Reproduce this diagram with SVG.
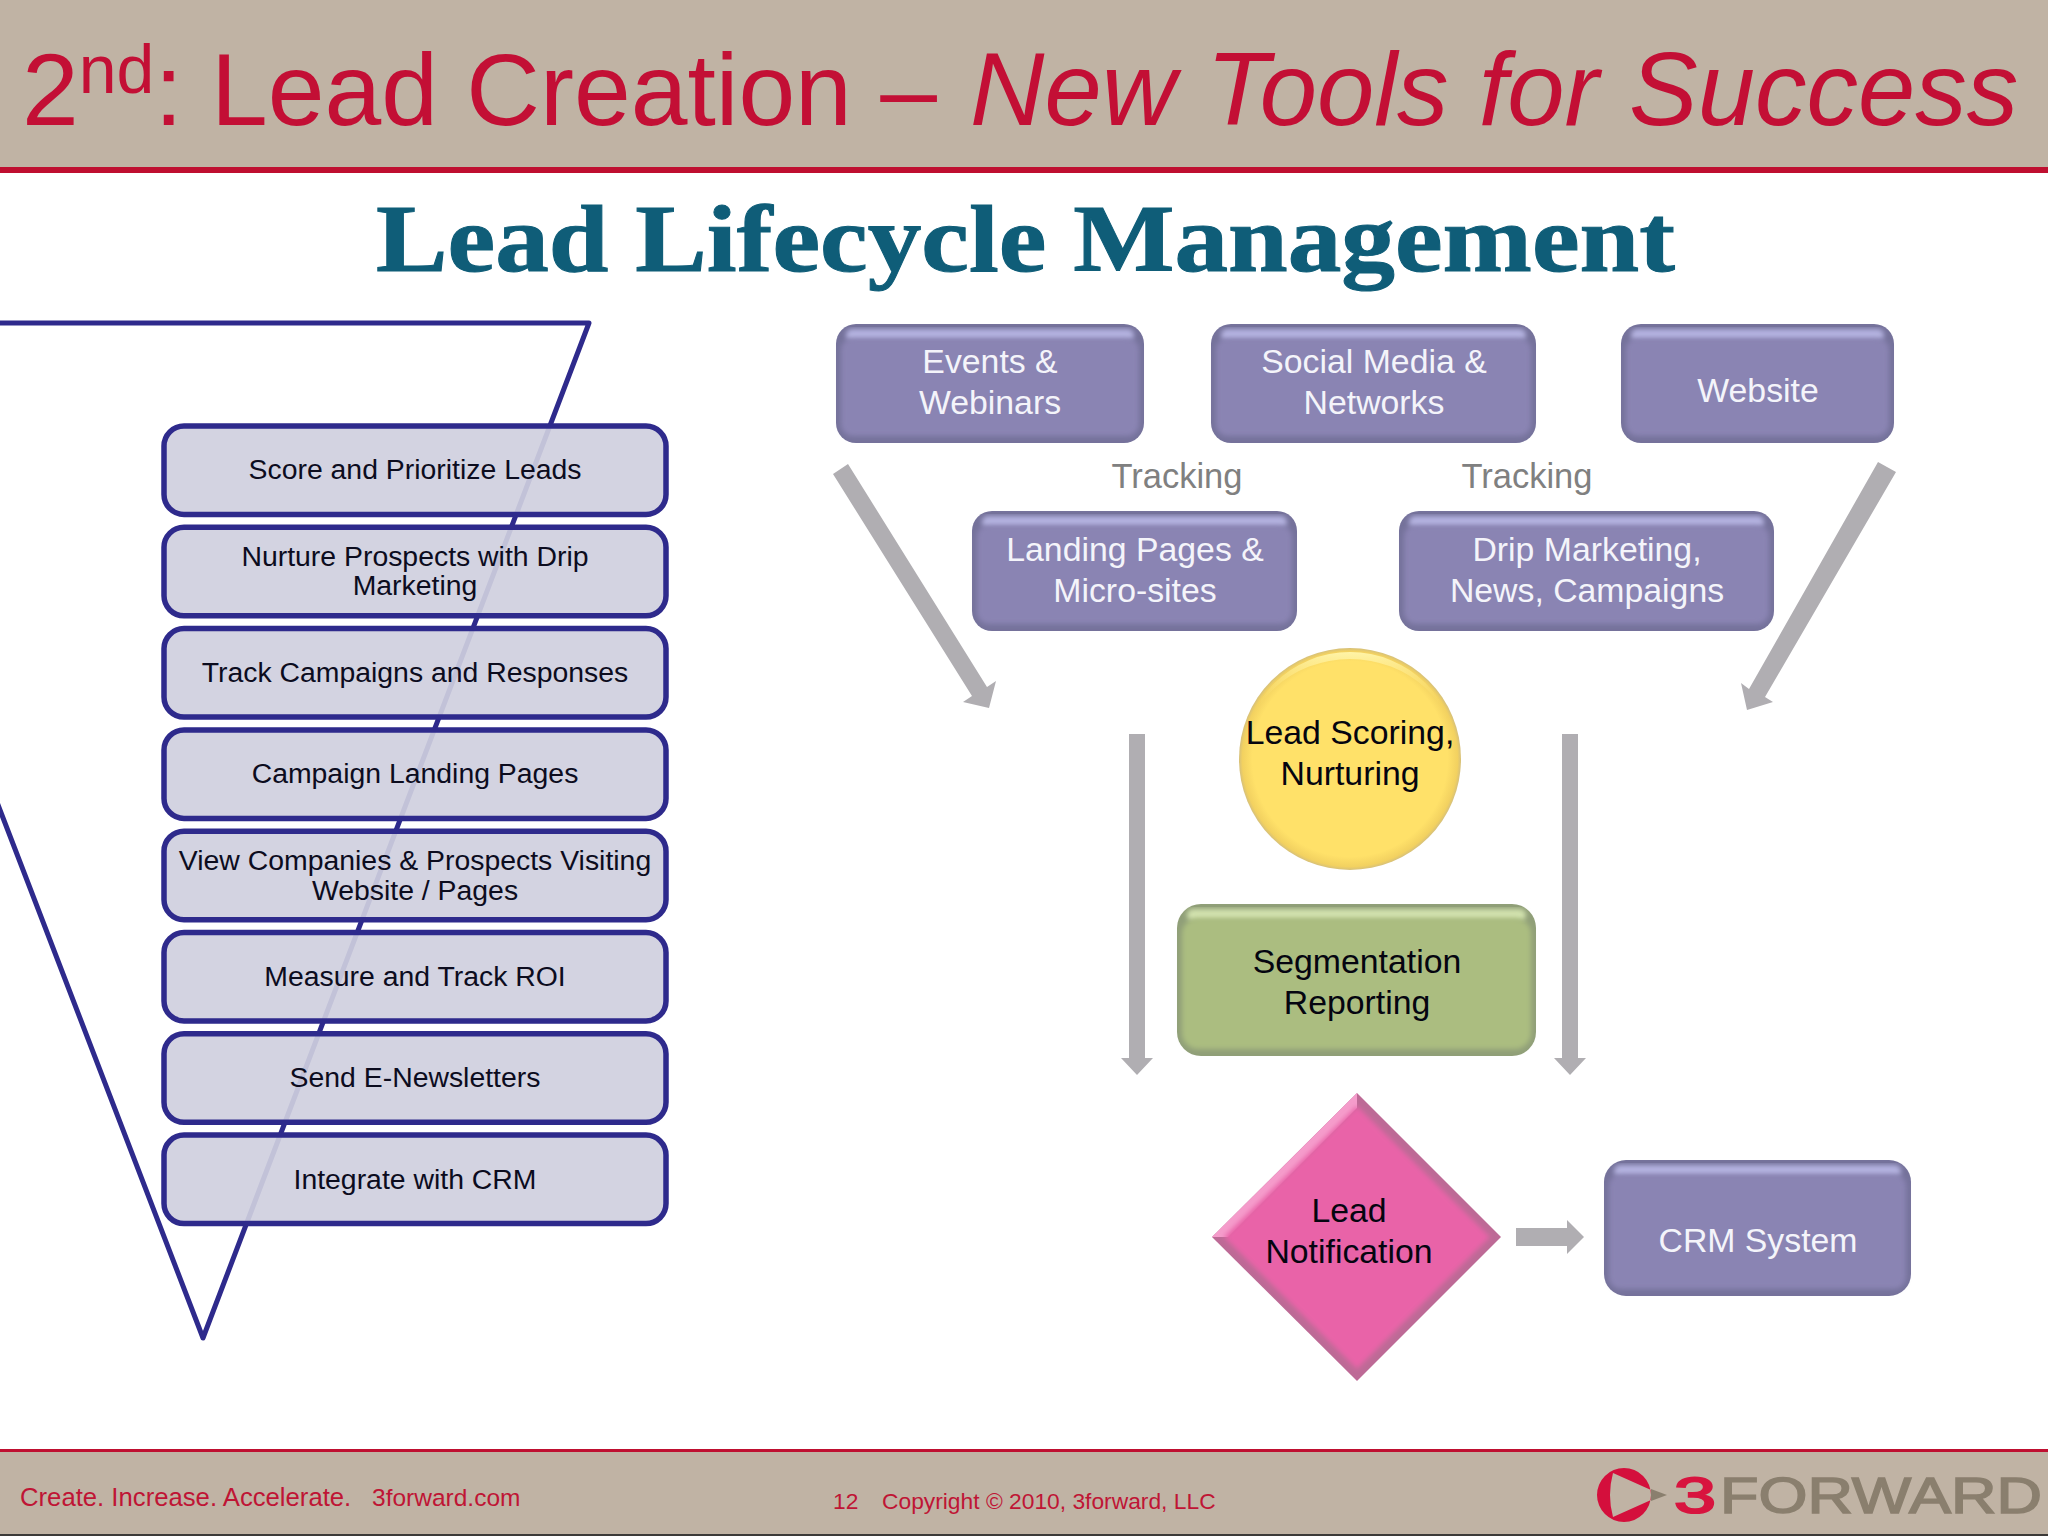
<svg xmlns="http://www.w3.org/2000/svg" width="2048" height="1536" viewBox="0 0 2048 1536">
<defs>
<filter id="soft" x="-5%" y="-10%" width="110%" height="120%"><feGaussianBlur stdDeviation="2.500"/></filter>
<radialGradient id="ball" cx="50%" cy="50%" r="50%"><stop offset="0.88" stop-color="#ffe169"/><stop offset="0.97" stop-color="#f2d160"/><stop offset="1" stop-color="#d6c07a"/></radialGradient>
<linearGradient id="ballRim" x1="0" y1="0" x2="0" y2="1"><stop offset="0" stop-color="#fff4a8"/><stop offset="0.5" stop-color="#ffe169" stop-opacity="0"/></linearGradient>
</defs>
<style>
text{font-family:"Liberation Sans",Arial,sans-serif}
.hdr{font-size:102px;fill:#c30f35}
.sub{font-family:"Liberation Serif","Times New Roman",serif;font-weight:bold;font-size:96px;fill:#0f5d78;stroke:#0f5d78;stroke-width:1}
.bar{fill:#c0b3a4;stroke:#3c3a38;stroke-width:2}
.red{fill:#bf0f30}
.ft{font-size:25.700px;fill:#bf1535}
.ft3{font-size:24.500px;fill:#bf1535}
.ft2{font-size:22.800px;fill:#bf1535}
.step{fill:#cfcfde;fill-opacity:.92;stroke:#2e2a8c;stroke-width:5.500}
.st{font-size:28.400px;fill:#0c0c1e;text-anchor:middle}
.edge{fill:#75729b}
.hi{fill:#b4b2e0}
.face{fill:#8a84b3}
.wt{font-size:33.800px;fill:#f4f4fa;text-anchor:middle}
.bk{font-size:33.800px;fill:#050510;text-anchor:middle}
.trk{font-size:34.500px;fill:#808080;text-anchor:middle}
.arr{fill:#b0aeb2}
</style>
<rect width="2048" height="1536" fill="#fff"/>
<g id="header">
<rect class="bar" x="-1" y="-1" width="2050" height="171"/>
<rect class="red" y="167" width="2048" height="6"/>
<text class="hdr" x="22" y="125">2<tspan font-size="68" dy="-32">nd</tspan><tspan dy="32">: Lead Creation – </tspan><tspan x="970" font-style="italic" font-size="103" word-spacing="1.500">New Tools for Success</tspan></text>
</g>
<text class="sub" x="376" y="271" textLength="1299" lengthAdjust="spacingAndGlyphs">Lead Lifecycle Management</text>
<g id="funnel"><path d="M-5 323H589L203 1338L-5 797" fill="none" stroke="#2e2a8c" stroke-width="5" stroke-linejoin="round"/></g>
<g id="step-1"><rect class="step" x="164" y="426" width="502" height="88.500" rx="20"/><text class="st" x="415" y="479">Score and Prioritize Leads</text></g>
<g id="step-2"><rect class="step" x="164" y="527.300" width="502" height="88.500" rx="20"/><text class="st" x="415" y="566">Nurture Prospects with Drip</text><text class="st" x="415" y="595">Marketing</text></g>
<g id="step-3"><rect class="step" x="164" y="628.600" width="502" height="88.500" rx="20"/><text class="st" x="415" y="682">Track Campaigns and Responses</text></g>
<g id="step-4"><rect class="step" x="164" y="729.900" width="502" height="88.500" rx="20"/><text class="st" x="415" y="783">Campaign Landing Pages</text></g>
<g id="step-5"><rect class="step" x="164" y="831.200" width="502" height="88.500" rx="20"/><text class="st" x="415" y="870">View Companies &amp; Prospects Visiting</text><text class="st" x="415" y="900">Website / Pages</text></g>
<g id="step-6"><rect class="step" x="164" y="932.500" width="502" height="88.500" rx="20"/><text class="st" x="415" y="986">Measure and Track ROI</text></g>
<g id="step-7"><rect class="step" x="164" y="1033.800" width="502" height="88.500" rx="20"/><text class="st" x="415" y="1087">Send E-Newsletters</text></g>
<g id="step-8"><rect class="step" x="164" y="1135.100" width="502" height="88.500" rx="20"/><text class="st" x="415" y="1189">Integrate with CRM</text></g>
<g id="connectors">
<path class="arr" d="M833 474L848 464L987 687L996 681L989 708L963 702L972 696Z"/>
<path class="arr" d="M1878 462L1896 472L1765 697L1773 702L1747 710L1741 683L1749 689Z"/>
<path class="arr" d="M1129 734H1145V1058H1153L1137 1075L1121 1058H1129Z"/>
<path class="arr" d="M1562 734H1578V1058H1586L1570 1075L1554 1058H1562Z"/>
<path class="arr" d="M1516 1228H1567V1220L1584 1237L1567 1254V1246H1516Z"/>
</g>
<g id="events"><rect class="edge" x="836" y="324" width="308" height="119" rx="20"/><rect class="hi" x="846" y="329" width="288" height="12" rx="6" filter="url(#soft)"/><rect class="face" x="841" y="338" width="298" height="98" rx="12" filter="url(#soft)"/><text class="wt" x="990" y="373">Events &amp;</text><text class="wt" x="990" y="414">Webinars</text></g>
<g id="social"><rect class="edge" x="1211" y="324" width="325" height="119" rx="20"/><rect class="hi" x="1221" y="329" width="305" height="12" rx="6" filter="url(#soft)"/><rect class="face" x="1216" y="338" width="315" height="98" rx="12" filter="url(#soft)"/><text class="wt" x="1374" y="373">Social Media &amp;</text><text class="wt" x="1374" y="414">Networks</text></g>
<g id="website"><rect class="edge" x="1621" y="324" width="273" height="119" rx="20"/><rect class="hi" x="1631" y="329" width="253" height="12" rx="6" filter="url(#soft)"/><rect class="face" x="1626" y="338" width="263" height="98" rx="12" filter="url(#soft)"/><text class="wt" x="1758" y="402">Website</text></g>
<text class="trk" x="1177" y="488">Tracking</text>
<text class="trk" x="1527" y="488">Tracking</text>
<g id="landing"><rect class="edge" x="972" y="511" width="325" height="120" rx="20"/><rect class="hi" x="982" y="516" width="305" height="12" rx="6" filter="url(#soft)"/><rect class="face" x="977" y="525" width="315" height="99" rx="12" filter="url(#soft)"/><text class="wt" x="1135" y="561">Landing Pages &amp;</text><text class="wt" x="1135" y="602">Micro-sites</text></g>
<g id="drip"><rect class="edge" x="1399" y="511" width="375" height="120" rx="20"/><rect class="hi" x="1409" y="516" width="355" height="12" rx="6" filter="url(#soft)"/><rect class="face" x="1404" y="525" width="365" height="99" rx="12" filter="url(#soft)"/><text class="wt" x="1587" y="561">Drip Marketing,</text><text class="wt" x="1587" y="602">News, Campaigns</text></g>
<g id="scoring"><circle cx="1350" cy="759" r="111" fill="url(#ball)"/><path d="M1350 652a107 107 0 0 1 107 107a107 100 0 0 0-214 0a107 107 0 0 1 107-107Z" fill="url(#ballRim)"/><text class="bk" x="1350" y="744">Lead Scoring,</text><text class="bk" x="1350" y="785">Nurturing</text></g>
<g id="segmentation"><rect x="1177" y="904" width="359" height="152" rx="24" fill="#909f78"/><rect x="1187" y="909" width="339" height="12" rx="6" fill="#d2e2ae" filter="url(#soft)"/><rect x="1182" y="918" width="349" height="131" rx="16" fill="#abbd80" filter="url(#soft)"/><text class="bk" x="1357" y="973">Segmentation</text><text class="bk" x="1357" y="1014">Reporting</text></g>
<g id="notification"><path d="M1357 1093L1501 1237L1357 1381L1212 1237Z" fill="#bd6a96"/><path d="M1357 1093L1212 1237L1228 1237L1357 1108Z" fill="#f59ccb"/><path d="M1357 1106L1490 1237L1357 1369L1224 1237Z" fill="#e963a8" filter="url(#soft)"/><text class="bk" x="1349" y="1222">Lead</text><text class="bk" x="1349" y="1263">Notification</text></g>
<g id="crm"><rect class="edge" x="1604" y="1160" width="307" height="136" rx="22"/><rect class="hi" x="1614" y="1165" width="287" height="12" rx="6" filter="url(#soft)"/><rect class="face" x="1609" y="1174" width="297" height="115" rx="12" filter="url(#soft)"/><text class="wt" x="1758" y="1252">CRM System</text></g>
<g id="footer">
<rect class="bar" x="-1" y="1450" width="2050" height="85"/>
<rect class="red" y="1449" width="2048" height="3"/>
<text class="ft" x="20" y="1506">Create. Increase. Accelerate.</text>
<text class="ft3" x="372" y="1506">3forward.com</text>
<text class="ft2" x="833" y="1509">12</text>
<text class="ft2" x="882" y="1509">Copyright © 2010, 3forward, LLC</text>
<g id="logo">
<path fill-rule="evenodd" fill="#d40f3c" d="M1624 1468a27 27 0 1 0 0 54a27 27 0 1 0 0-54ZM1613 1473L1651 1490V1500L1613 1517Q1607 1495 1613 1473Z"/>
<path d="M1651 1489L1667 1495L1651 1501Z" fill="#8a7f6e"/>
<text x="1674" y="1513" font-size="50" fill="#d8143f" stroke="#d8143f" stroke-width="2" textLength="42" lengthAdjust="spacingAndGlyphs">3</text>
<text x="1720" y="1513" font-size="50" fill="#8a7f6e" stroke="#8a7f6e" stroke-width="1.500" textLength="322" lengthAdjust="spacingAndGlyphs">FORWARD</text>
</g>
</g>
</svg>
